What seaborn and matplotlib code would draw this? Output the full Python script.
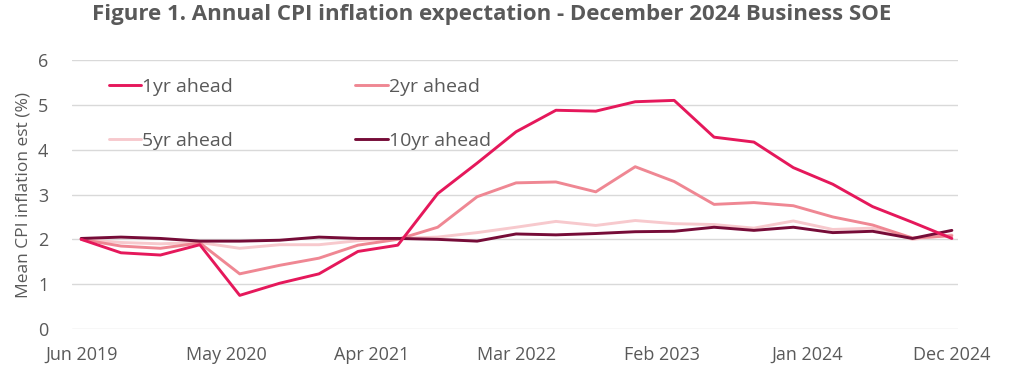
import pandas as pd
import seaborn as sns
import matplotlib.pyplot as plt
import matplotlib.dates as mdates

# quarterly survey dates
dates = pd.date_range('2019-06-01', '2024-12-01', freq='3MS')

# mean CPI inflation expectations (%)
one_yr = [2.00, 1.70, 1.65, 1.88, 0.75, 1.02, 1.23, 1.73, 1.87, 3.02, 3.70, 4.40,
          4.88, 4.86, 5.07, 5.10, 4.28, 4.17, 3.60, 3.23, 2.73, 2.38, 2.02]
two_yr = [2.00, 1.85, 1.80, 1.92, 1.23, 1.42, 1.58, 1.87, 2.00, 2.27, 2.95, 3.26,
          3.28, 3.06, 3.62, 3.29, 2.78, 2.82, 2.75, 2.50, 2.32, 2.03, 2.08]
five_yr = [2.00, 1.93, 1.90, 1.93, 1.80, 1.88, 1.88, 1.97, 2.02, 2.05, 2.15, 2.27,
           2.40, 2.31, 2.42, 2.35, 2.33, 2.25, 2.41, 2.22, 2.25, 2.00, 2.10]
ten_yr = [2.02, 2.05, 2.02, 1.96, 1.96, 1.98, 2.05, 2.02, 2.02, 2.00, 1.96, 2.12,
          2.10, 2.13, 2.17, 2.18, 2.27, 2.20, 2.27, 2.15, 2.18, 2.02, 2.20]

series = {'1yr ahead': one_yr, '2yr ahead': two_yr,
          '5yr ahead': five_yr, '10yr ahead': ten_yr}
colors = {'1yr ahead': '#E5185B', '2yr ahead': '#EF8793',
          '5yr ahead': '#F7C9CD', '10yr ahead': '#760C38'}

df = pd.DataFrame(series, index=dates).reset_index(names='date')
long_df = df.melt(id_vars='date', var_name='horizon', value_name='cpi')

# tick positions every 11 months, as in the original
tick_dates = pd.to_datetime(['2019-06-01', '2020-05-01', '2021-04-01', '2022-03-01',
                             '2023-02-01', '2024-01-01', '2024-12-01'])

sns.set_style('white')
plt.rcParams['font.family'] = ['Open Sans', 'DejaVu Sans']
grey = '#595959'

fig = plt.figure(figsize=(10.09, 3.73), dpi=100)
ax = fig.add_axes([0.0714, 0.118, 0.878, 0.721])

# draw light series first so the darker ones sit on top
for name in ['5yr ahead', '2yr ahead', '10yr ahead', '1yr ahead']:
    sns.lineplot(data=long_df[long_df['horizon'] == name], x='date', y='cpi',
                 color=colors[name], linewidth=2.1, ax=ax, label=name)

ax.set_ylim(0, 6)
ax.set_yticks(range(0, 7))
ax.set_xlim(pd.Timestamp('2019-05-11'), pd.Timestamp('2024-12-15'))
ax.set_xticks(tick_dates)
ax.xaxis.set_major_formatter(mdates.DateFormatter('%b %Y'))
ax.grid(axis='y', color='#D9D9D9', linewidth=1)
ax.set_axisbelow(True)
for s in ax.spines.values():
    s.set_visible(False)
ax.tick_params(axis='both', length=0, labelsize=13, labelcolor=grey)
ax.tick_params(axis='x', pad=12)
ax.tick_params(axis='y', pad=17)
ax.set_xlabel('')
ax.set_ylabel('Mean CPI inflation est (%)', fontsize=12.5, color=grey, labelpad=5)

handles, labels = ax.get_legend_handles_labels()
order = ['1yr ahead', '5yr ahead', '2yr ahead', '10yr ahead']
hmap = dict(zip(labels, handles))
ax.legend([hmap[k] for k in order], order, ncol=2, loc='upper left',
          bbox_to_anchor=(0.022, 1.0), frameon=False, fontsize=14,
          labelcolor=grey, handlelength=1.65, handletextpad=0.05,
          labelspacing=1.85, columnspacing=6.3)

fig.suptitle('Figure 1. Annual CPI inflation expectation - December 2024 Business SOE',
             x=0.487, y=0.99, fontsize=16, fontweight='bold', color=grey)

fig.savefig('out.png', dpi=100)
